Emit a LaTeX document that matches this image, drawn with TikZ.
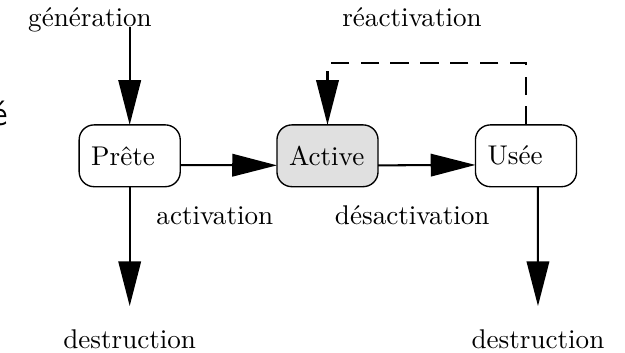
\documentclass[tikz,border=0pt]{standalone}
\usetikzlibrary{arrows.meta}
\definecolor{actgray}{gray}{0.88}
\tikzset{
  etat/.style={draw=black, line width=0.5pt, rounded corners=5.5pt, text width=28.4pt,
    align=left, inner sep=4.45pt, minimum height=22.8pt},
  flow/.style={draw=black, line width=0.75pt, -{Triangle[length=16.5pt,width=8.3pt]}},
  flowd/.style={flow, dash pattern=on 6.8pt off 4.2pt},
}
\begin{document}
\begin{tikzpicture}[y=0.369pt, x=0.369pt, yscale=-1, inner sep=0pt, outer sep=0pt]
\useasboundingbox (0,0) rectangle (625,353);
  % states
  \node[etat] (prete) at (129.7,155.8) {Prête};
  \node[etat, fill=actgray] (active) at (327.5,155.8) {Active};
  \node[etat] (usee) at (526,155.8) {Usée};
  % labels
  \node[anchor=base] (textgen) at (90,26.7) {génération};
  \node[anchor=base] (textreac) at (412,27) {réactivation};
  \node[anchor=base west] (textact) at (156.5,225) {activation};
  \node[anchor=base west] (textdes) at (335,225) {désactivation};
  \node[anchor=base] (textdestA) at (129.7,349) {destruction};
  \node[anchor=base] (textdestB) at (538,349) {destruction};
  \node[anchor=base, font=\sffamily\fontsize{13}{15}\selectfont] (textstray) at (0,126) {é};
  % transitions
  \draw[flow] (textgen.base -| prete.north) -- (prete.north);
  \draw[flow] (prete.base east) -- (active.base west);
  \draw[flow] (active.base east) -- (usee.base west);
  \draw[flow, shorten >=8.9pt] (prete.south) -- (textdestA.north);
  \draw[flow, shorten >=8.9pt] ([xshift=4.4pt]usee.south) -- (textdestB.north);
  \draw[flowd] (usee.north) -- ++(0,-61.7) -| (active.north);
\end{tikzpicture}
\end{document}
